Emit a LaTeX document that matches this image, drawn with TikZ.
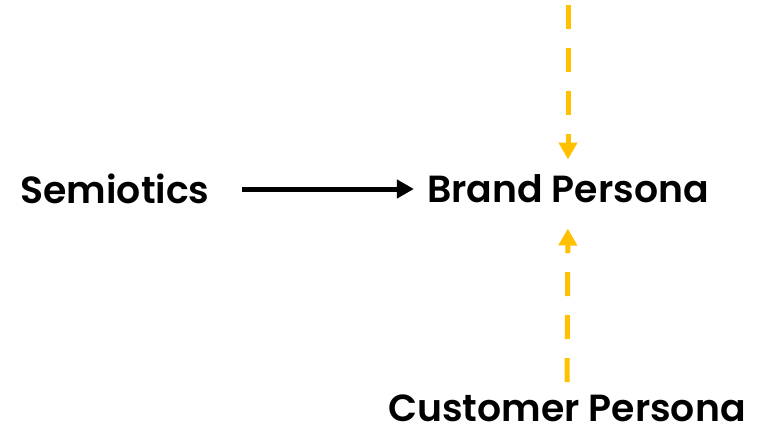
\documentclass[tikz,border=0pt]{standalone}
\usepackage{fontspec}
\setmainfont{Poppins SemiBold}
\usetikzlibrary{arrows.meta, positioning}
\definecolor{personagold}{RGB}{255, 192, 0}

\begin{document}
\begin{tikzpicture}[
    x=0.02cm, y=-0.02cm,
    term/.style={inner sep=0pt, font=\fontsize{21.5}{26}\selectfont},
    flow/.style={-{Triangle[width=0.36cm, length=0.34cm]}, line width=0.1cm},
    feed/.style={flow, personagold, line width=0.1cm, dash pattern=on 0.48cm off 0.38cm}
]
\useasboundingbox (0, 0) rectangle (761, 436);

% Terms
\node[term] (semio) at (115, 189) {Semiotics};
\node[term] (brand) at (568, 189) {Brand Persona};
\node[term] (cust) at (567, 408) {Customer Persona};
\coordinate (top) at (568, 5);

% Arrows
\draw[flow, shorten <=0.64cm, shorten >=0.26cm] (semio.east) -- (brand.west);
\draw[feed, shorten >=0.3cm] (top) -- (brand.north);
\draw[feed, shorten <=0.24cm, shorten >=0.5cm] (cust.north) -- (brand.south);

\end{tikzpicture}
\end{document}
